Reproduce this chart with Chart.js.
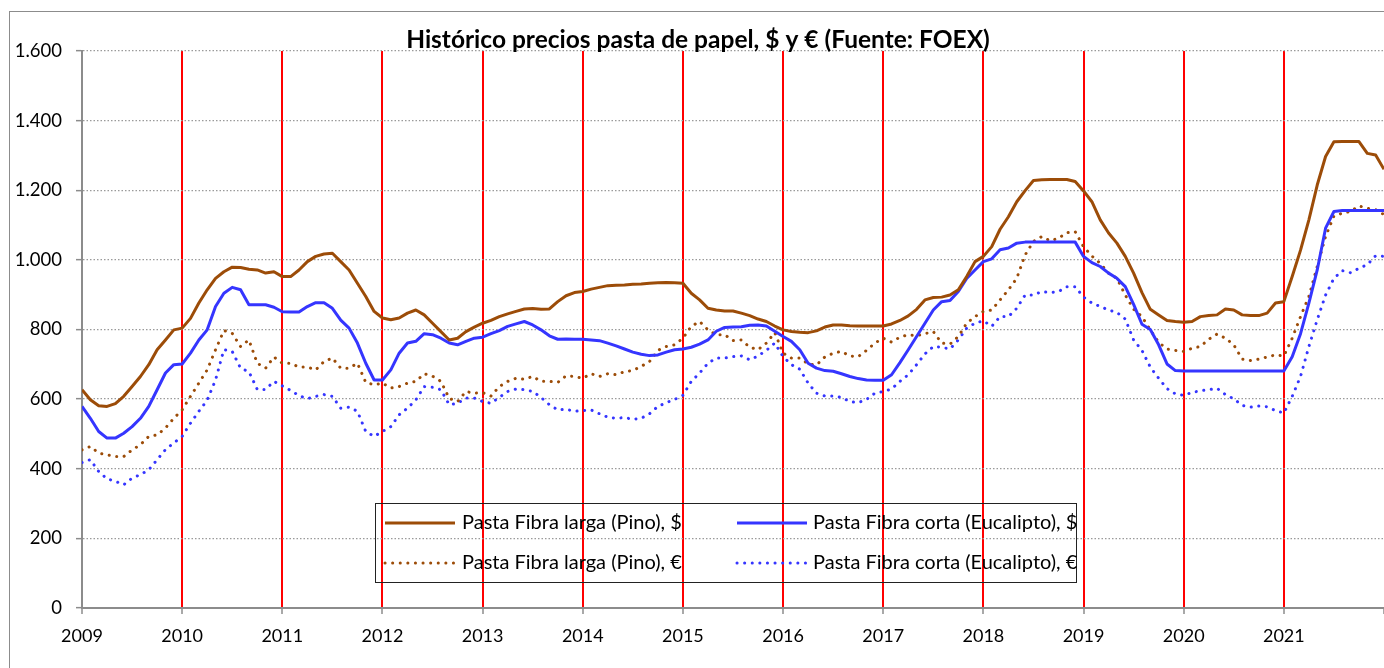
<!DOCTYPE html>
<html>
<head>
<meta charset="utf-8">
<title>Histórico precios pasta de papel</title>
<script src="https://cdn.jsdelivr.net/npm/chart.js@4.4.1/dist/chart.umd.min.js"></script>
<style>
	body { margin: 0; background: #fff; overflow: hidden; }
	#marco { position: absolute; left: 9px; top: 11px; width: 1420px; height: 700px; border: 1px solid #8c8c8c; }
	#caja { position: absolute; left: 0; top: 0; width: 1395px; height: 668px; }
</style>
</head>
<body>
<div id="marco"></div>
<div id="caja"><canvas id="myChart" width="1395" height="668"></canvas></div>
<script>
// datos mensuales, enero 2009 -> enero 2022
var anioInicio = 2009;
var anioFin = 2022;

var pinoDolar = [
	627, 598, 581, 579, 587, 608, 636, 665, 699, 742, 770, 799,
	804, 832, 876, 914, 947, 966, 979, 978, 973, 971, 962, 966,
	952, 952, 971, 995, 1010, 1017, 1019, 995, 971, 933, 895, 852,
	833, 828, 833, 847, 856, 842, 818, 794, 770, 775, 794, 807,
	818, 826, 837, 845, 852, 859, 860, 858, 859, 880, 897, 906,
	909, 916, 921, 926, 927, 928, 930, 931, 933, 934, 935, 934,
	933, 904, 885, 861, 856, 853, 853, 847, 840, 830, 823, 810,
	799, 794, 792, 791, 796, 807, 813, 813, 811, 810, 810, 810,
	810, 816, 826, 839, 858, 885, 892, 893, 899, 914, 952, 995,
	1010, 1038, 1088, 1124, 1167, 1199, 1228, 1230, 1231, 1231, 1231, 1225,
	1198, 1167, 1115, 1077, 1048, 1010, 962, 906, 858, 842, 826, 823,
	821, 823, 837, 840, 842, 859, 856, 842, 840, 840, 847, 876,
	880, 952, 1028, 1115, 1215, 1297, 1339, 1340, 1340, 1340, 1306, 1301,
	1260
];

var pinoEuro = [
	454, 464, 445, 440, 435, 435, 454, 469, 493, 497, 517, 545,
	569, 608, 646, 684, 742, 797, 789, 751, 770, 703, 689, 721,
	703, 703, 692, 692, 684, 708, 718, 689, 689, 703, 648, 641,
	646, 632, 636, 646, 651, 673, 666, 651, 602, 593, 622, 617,
	619, 609, 636, 651, 660, 657, 665, 651, 651, 648, 667, 665,
	660, 673, 665, 673, 670, 679, 682, 694, 708, 740, 751, 756,
	775, 809, 823, 799, 785, 785, 768, 770, 749, 742, 761, 791,
	732, 718, 718, 701, 698, 721, 732, 737, 724, 722, 740, 761,
	775, 764, 778, 785, 782, 788, 794, 761, 758, 780, 818, 837,
	852, 856, 885, 914, 947, 1014, 1053, 1067, 1055, 1062, 1078, 1081,
	1038, 1011, 990, 962, 947, 899, 858, 837, 799, 763, 744, 740,
	737, 746, 751, 772, 787, 775, 756, 715, 711, 715, 721, 727,
	724, 775, 837, 895, 981, 1067, 1126, 1134, 1139, 1155, 1148, 1144,
	1130
];

var eucaDolar = [
	579, 545, 507, 488, 488, 502, 521, 545, 579, 627, 675, 699,
	701, 732, 770, 799, 866, 904, 921, 914, 871, 871, 871, 864,
	851, 850, 850, 866, 877, 877, 861, 827, 804, 761, 703, 655,
	655, 684, 732, 761, 766, 788, 785, 775, 761, 756, 766, 775,
	778, 788, 797, 809, 816, 823, 813, 799, 782, 772, 773, 772,
	772, 770, 768, 761, 753, 744, 735, 729, 725, 727, 735, 742,
	744, 749, 758, 770, 795, 806, 807, 808, 812, 813, 810, 795,
	780, 766, 742, 703, 689, 682, 680, 673, 665, 659, 655, 654,
	654, 670, 705, 742, 780, 818, 856, 880, 883, 909, 947, 971,
	995, 1003, 1029, 1034, 1048, 1051, 1051, 1051, 1051, 1051, 1051, 1051,
	1010, 992, 981, 962, 947, 923, 872, 815, 800, 756, 701, 682,
	681, 681, 681, 681, 681, 681, 681, 681, 681, 681, 681, 681,
	681, 722, 788, 876, 971, 1091, 1139, 1142, 1142, 1142, 1142, 1142,
	1142
];

var eucaEuro = [
	418, 426, 392, 371, 364, 354, 373, 383, 397, 426, 455, 474,
	493, 531, 565, 597, 655, 742, 737, 689, 679, 628, 628, 651,
	638, 625, 610, 601, 608, 613, 608, 574, 577, 565, 507, 493,
	507, 521, 555, 574, 598, 636, 634, 627, 584, 588, 603, 603,
	593, 588, 605, 622, 629, 627, 622, 605, 584, 569, 571, 565,
	567, 569, 558, 548, 545, 547, 542, 545, 558, 579, 590, 599,
	611, 651, 675, 703, 718, 718, 722, 724, 713, 724, 740, 761,
	722, 699, 686, 646, 617, 609, 609, 605, 593, 590, 599, 617,
	622, 629, 651, 670, 699, 730, 751, 749, 744, 770, 804, 818,
	825, 809, 837, 837, 861, 899, 899, 909, 906, 909, 923, 923,
	893, 876, 866, 856, 849, 830, 770, 740, 692, 660, 630, 615,
	611, 619, 624, 627, 631, 613, 601, 582, 577, 580, 578, 567,
	560, 608, 665, 751, 828, 899, 947, 969, 963, 976, 986, 1012,
	1010
];

var nombres = [
	"Pasta Fibra larga (Pino), $",
	"Pasta Fibra corta (Eucalipto), $",
	"Pasta Fibra larga (Pino), €",
	"Pasta Fibra corta (Eucalipto), €"
];

var titulo = "Histórico precios pasta de papel, $ y € (Fuente: FOEX)";

var marron = '#9c4c08';
var azul = '#3535ff';

// eje x: fecha en años decimales (un punto por mes)
var fechas = [];
var i;
for (i = 0; i < pinoDolar.length; i++) {
	fechas[i] = anioInicio + i / 12;
}

function serie(valores) {
	var res = [];
	for (var j = 0; j < valores.length; j++) {
		res[j] = {x: fechas[j], y: valores[j]};
	}
	return res;
}

function miles(v) {
	if (v >= 1000) {
		var resto = String(v % 1000);
		while (resto.length < 3) resto = '0' + resto;
		return Math.floor(v / 1000) + '.' + resto;
	}
	return String(v);
}

var punteado = [0.1, 7.5];

var tituloPlugin = {
	id: 'tituloFijo',
	afterDraw: function(chart) {
		var ctx = chart.ctx;
		ctx.save();
		ctx.font = 'bold 24.5px Lato';
		ctx.fillStyle = '#000';
		ctx.textAlign = 'center';
		ctx.textBaseline = 'alphabetic';
		ctx.fillText(titulo, 698, 48);
		ctx.restore();
	}
};

// leyenda en caja, 2 columnas x 2 filas, dentro del área del gráfico
var leyendaPlugin = {
	id: 'leyendaCaja',
	afterDraw: function(chart) {
		var ctx = chart.ctx;
		var columnas = [385, 737];
		var textos = [462, 813];
		var filas = [523, 563];
		ctx.save();
		ctx.strokeStyle = '#222';
		ctx.lineWidth = 1;
		ctx.setLineDash([]);
		ctx.strokeRect(375.5, 503.5, 701, 79);
		for (var k = 0; k < chart.data.datasets.length; k++) {
			var ds = chart.data.datasets[k];
			var c = k % 2;
			var f = Math.floor(k / 2);
			ctx.beginPath();
			ctx.strokeStyle = ds.borderColor;
			ctx.lineWidth = ds.borderWidth;
			ctx.lineCap = ds.borderCapStyle || 'butt';
			ctx.setLineDash(ds.borderDash || []);
			ctx.moveTo(columnas[c], filas[f]);
			ctx.lineTo(columnas[c] + 70, filas[f]);
			ctx.stroke();
			ctx.setLineDash([]);
			ctx.font = '20px Lato';
			ctx.fillStyle = '#000';
			ctx.textAlign = 'left';
			ctx.textBaseline = 'middle';
			ctx.fillText(ds.label, textos[c], filas[f]);
		}
		ctx.restore();
	}
};

Chart.defaults.font.family = 'Lato';
Chart.defaults.color = '#000';

var ctx = document.getElementById('myChart').getContext('2d');
var chart = new Chart(ctx, {
	type: 'line',
	data: {
		datasets: [{
			label: nombres[0],
			data: serie(pinoDolar),
			borderColor: marron,
			borderWidth: 3
		}, {
			label: nombres[1],
			data: serie(eucaDolar),
			borderColor: azul,
			borderWidth: 3
		}, {
			label: nombres[2],
			data: serie(pinoEuro),
			borderColor: marron,
			borderWidth: 3,
			borderDash: punteado,
			borderCapStyle: 'round'
		}, {
			label: nombres[3],
			data: serie(eucaEuro),
			borderColor: azul,
			borderWidth: 3,
			borderDash: punteado,
			borderCapStyle: 'round'
		}]
	},
	options: {
		responsive: false,
		animation: false,
		devicePixelRatio: 1,
		layout: { padding: { top: 51, right: 0, bottom: 0, left: 0 } },
		elements: {
			point: { radius: 0 },
			line: { tension: 0, borderJoinStyle: 'round' }
		},
		plugins: {
			legend: { display: false },
			title: { display: false },
			tooltip: { enabled: false }
		},
		scales: {
			x: {
				type: 'linear',
				min: anioInicio,
				max: anioFin,
				afterFit: function(s) { s.height = 60; },
				ticks: {
					stepSize: 1,
					padding: 11,
					maxRotation: 0,
					font: { size: 18 },
					callback: function(v) { return v < anioFin ? String(v) : ''; }
				},
				grid: {
					lineWidth: 2,
					color: function(c) {
						if (!c.tick) return 'rgba(0,0,0,0)';
						var v = c.tick.value;
						return (v > anioInicio && v < anioFin) ? '#ff0000' : 'rgba(0,0,0,0)';
					},
					tickColor: '#8c8c8c',
					tickWidth: 1.5,
					tickLength: 6
				},
				border: { color: '#8c8c8c', width: 2 }
			},
			y: {
				min: 0,
				max: 1600,
				afterFit: function(s) { s.width = 82; },
				ticks: {
					stepSize: 200,
					padding: 14,
					font: { size: 18.5 },
					callback: function(v) { return miles(v); }
				},
				grid: {
					color: '#9a9a9a',
					lineWidth: 1.3,
					tickColor: '#8c8c8c',
					tickWidth: 1.5,
					tickLength: 6,
					tickBorderDash: []
				},
				border: { color: '#8c8c8c', width: 2, dash: [1.5, 2] }
			}
		}
	},
	plugins: [tituloPlugin, leyendaPlugin]
});
</script>
</body>
</html>
